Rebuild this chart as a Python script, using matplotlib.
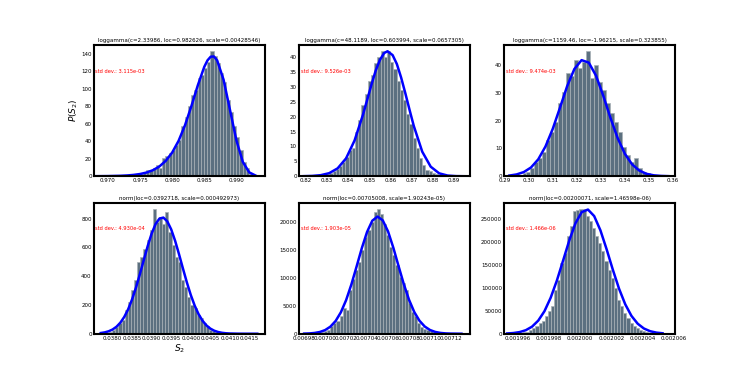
import numpy as np
import matplotlib
matplotlib.use("Agg")
import matplotlib.pyplot as plt
from matplotlib.ticker import MultipleLocator

# histogram bin counts (density)
p1_range = (0.96795, 0.99295)
p1_counts = [0, 0, 0, 0.5, 0, 0.5, 0.5, 0.5, 1, 1,
             1, 1.5, 2, 2, 3, 4, 7, 7, 10, 13,
             9, 21, 23, 27, 30, 36, 41, 58, 68, 80,
             93, 99, 112, 116, 124, 131, 143, 137, 129, 118,
             108, 87, 74, 58, 45, 30, 16, 9, 3, 1]

p2_range = (0.8190, 0.8946)
p2_counts = [0.1, 0.1, 0.2, 0.2, 0.3, 0.4, 0.6, 0.8, 1.2, 1.8,
             2.4, 3.5, 4.8, 6.5, 8.8, 9.6, 15, 19, 24, 27.5,
             32, 34, 38, 40, 42, 40, 42, 38.5, 36, 32,
             29, 25.5, 21, 17.5, 13, 9.5, 6.2, 3.8, 2.2, 1.8,
             1.0, 0.7, 0.4, 0.3, 0.2, 0.15, 0.1, 0.05, 0.05, 0.05]

p3_range = (0.29252, 0.35852)
p3_counts = [0.2, 0.4, 0.6, 1.0, 1.6, 2.8, 5.2, 6.4, 8.8, 13,
             16, 19.6, 26.3, 30.5, 37, 36, 42, 39, 41.3, 45,
             35.3, 40, 34, 31, 26.3, 22.6, 19.6, 16, 10.6, 7.5,
             5.2, 6.5, 2.8, 1.6, 1.0, 0.5, 0.3, 0.2, 0.1, 0.1]

p4_range = (0.03767, 0.04167)
p4_counts = [3, 5, 8, 15, 28, 50, 74, 97, 166, 224,
             304, 373, 500, 535, 592, 650, 719, 869, 777, 811,
             765, 846, 708, 615, 535, 500, 373, 327, 258, 200,
             177, 131, 108, 74, 51, 28, 16, 12, 9, 5,
             3, 2, 1, 1, 0.5, 0.5, 0, 0, 0, 0.5]

p5_range = (0.0069812, 0.0071292)
p5_counts = [50, 60, 80, 120, 200, 300, 415, 700, 1300, 1900,
             2200, 3100, 4570, 4270, 7830, 9730, 11400, 12880, 14950, 17330,
             18520, 20000, 21780, 22370, 21360, 19700, 17630, 15550, 14070, 12280,
             10200, 9020, 7830, 5460, 3980, 3090, 1900, 1190, 830, 590,
             415, 240, 180, 100, 60, 40, 30, 20, 10, 10]

p6_range = (0.0019955, 0.0020056)
p6_counts = [300, 600, 1000, 1800, 2800, 4500, 8800, 12400, 16000, 23400,
             28500, 38000, 49000, 60000, 96500, 118400, 155000, 177000, 213500, 235400,
             268300, 270500, 273400, 272000, 257300, 246300, 231700, 213500, 198800, 180600,
             158600, 140400, 122100, 100100, 74600, 60000, 45300, 34400, 23400, 17500,
             12400, 8800, 5100, 2900, 2000, 1000, 600, 300, 150, 100]

# fitted pdf curves
p1_fit_x = [0.968, 0.970, 0.972, 0.973, 0.974, 0.975, 0.976, 0.977, 0.978, 0.979,
            0.980, 0.981, 0.982, 0.983, 0.984, 0.985, 0.9855, 0.986, 0.9865, 0.987,
            0.988, 0.989, 0.990, 0.991, 0.992, 0.993]
p1_fit_y = [0.06, 0.19, 0.54, 0.92, 1.54, 2.56, 4.23, 6.91, 11.1, 17.6,
            27.1, 40.5, 58.4, 80.4, 104.2, 125.2, 132.6, 136.8, 137.0, 132.6,
            110.4, 75.8, 40.9, 16.3, 4.4, 0.7]

p2_fit_x = [0.819, 0.823, 0.827, 0.831, 0.835, 0.839, 0.843, 0.847, 0.851, 0.853,
            0.855, 0.857, 0.8586, 0.861, 0.863, 0.865, 0.867, 0.869, 0.871, 0.875,
            0.879, 0.883, 0.887, 0.891, 0.895]
p2_fit_y = [0.03, 0.11, 0.36, 1.03, 2.65, 6.01, 12.0, 20.7, 30.8, 35.5,
            39.1, 41.4, 42.0, 40.7, 37.7, 33.2, 27.9, 22.3, 16.9, 8.25,
            3.21, 0.98, 0.23, 0.04, 0.005]

p3_fit_x = [0.292, 0.295, 0.298, 0.301, 0.304, 0.307, 0.310, 0.313, 0.316, 0.319,
            0.322, 0.325, 0.328, 0.331, 0.334, 0.337, 0.340, 0.343, 0.346, 0.349,
            0.352, 0.355, 0.358]
p3_fit_y = [0.25, 0.65, 1.50, 3.16, 6.08, 10.7, 17.0, 24.6, 32.4, 38.6,
            41.8, 40.9, 36.2, 29.0, 21.0, 13.7, 8.05, 4.26, 2.03, 0.87,
            0.33, 0.12, 0.035]

p4_fit_x = [0.0377, 0.0378, 0.0379, 0.0380, 0.0381, 0.0382, 0.0383, 0.0384, 0.0385, 0.0386,
            0.0387, 0.0388, 0.0389, 0.0390, 0.0391, 0.0392, 0.0393, 0.0394, 0.0395, 0.0396,
            0.0397, 0.0398, 0.0399, 0.0400, 0.0401, 0.0402, 0.0403, 0.0404, 0.0405, 0.0406,
            0.0407, 0.0408, 0.0409, 0.0410, 0.0412, 0.0414, 0.0417]
p4_fit_y = [5.1, 9.5, 17.0, 29.3, 48.4, 76.9, 116.9, 170.5, 239.1, 321.4,
            414.8, 513.8, 610.6, 696.5, 762.5, 801, 807.5, 781.2, 725.2, 646.1,
            552.5, 453.3, 357, 269.7, 195.6, 136.1, 90.9, 58.3, 35.8, 21.1,
            12.0, 6.5, 3.4, 1.7, 0.4, 0.07, 0]

p5_fit_x = [0.006980, 0.006985, 0.006990, 0.006995, 0.007000, 0.007005, 0.007010, 0.007015,
            0.007020, 0.007025, 0.007030, 0.007035, 0.007040, 0.007045, 0.007050, 0.007055,
            0.007060, 0.007065, 0.007070, 0.007075, 0.007080, 0.007085, 0.007090, 0.007095,
            0.007100, 0.007105, 0.007110, 0.007115, 0.007120, 0.007130]
p5_fit_y = [24, 60, 143, 317, 656, 1265, 2280, 3831,
            6008, 8800, 12021, 15317, 18224, 20235, 20971, 20282,
            18306, 15420, 12123, 8892, 6086, 3888, 2321, 1291,
            671, 325, 147, 62, 25, 3]

p6_fit_x = [0.0019953, 0.0019957, 0.0019961, 0.0019965, 0.0019969, 0.0019973, 0.0019977,
            0.0019981, 0.0019985, 0.0019989, 0.0019993, 0.0019997, 0.0020001, 0.0020005,
            0.0020009, 0.0020013, 0.0020017, 0.0020021, 0.0020025, 0.0020029, 0.0020033,
            0.0020037, 0.0020041, 0.0020045, 0.0020049, 0.0020053]
p6_fit_y = [626, 1559, 3614, 7772, 15485, 28711, 49312,
            78757, 116449, 160100, 204350, 242014, 266126, 271625,
            257363, 226339, 184783, 140016, 98488, 64307, 38970,
            21934, 11457, 5552, 2498, 1045]

titles = ["loggamma(c=2.33986, loc=0.982626, scale=0.00428546)",
          "loggamma(c=48.1189, loc=0.603994, scale=0.0657305)",
          "loggamma(c=1159.46, loc=-1.96215, scale=0.323855)",
          "norm(loc=0.0392718, scale=0.000492973)",
          "norm(loc=0.00705008, scale=1.90243e-05)",
          "norm(loc=0.00200071, scale=1.46598e-06)"]
std_labels = ["std dev.: 3.115e-03", "std dev.: 9.526e-03", "std dev.: 9.474e-03",
              "std dev.: 4.930e-04", "std dev.: 1.903e-05", "std dev.: 1.466e-06"]

panels = [
    (p1_range, p1_counts, p1_fit_x, p1_fit_y, (0.9678, 0.9944), 0.005, 20),
    (p2_range, p2_counts, p2_fit_x, p2_fit_y, (0.8167, 0.8975), 0.01, 5),
    (p3_range, p3_counts, p3_fit_x, p3_fit_y, (0.2898, 0.3608), 0.01, 10),
    (p4_range, p4_counts, p4_fit_x, p4_fit_y, (0.03752, 0.04189), 0.0005, 200),
    (p5_range, p5_counts, p5_fit_x, p5_fit_y, (0.006975, 0.007138), 0.00002, 5000),
    (p6_range, p6_counts, p6_fit_x, p6_fit_y, (0.0019951, 0.0020061), 0.000002, 50000),
]

fig, axes = plt.subplots(2, 3, figsize=(7.5, 3.75), dpi=100)

for k, ax in enumerate(axes.flat):
    rng, counts, fx, fy, xlim, xstep, ystep = panels[k]
    edges = np.linspace(rng[0], rng[1], len(counts) + 1)
    ax.bar(edges[:-1], counts, width=np.diff(edges), align="edge",
           color="#5c7080", edgecolor="#a8b0b6", linewidth=0.5)
    ax.plot(fx, fy, color="#0000ff", lw=1.8)
    ax.set_xlim(*xlim)
    ax.xaxis.set_major_locator(MultipleLocator(xstep))
    ax.yaxis.set_major_locator(MultipleLocator(ystep))
    ax.ticklabel_format(useOffset=False, style="plain")
    ax.tick_params(length=0, labelsize=4, pad=1.5)
    for sp in ax.spines.values():
        sp.set_linewidth(1.5)
    ax.set_title(titles[k], fontsize=4, pad=2)
    ax.text(0.01, 0.80, std_labels[k], transform=ax.transAxes, color="red",
            fontsize=3.7, va="center", ha="left")

axes[0, 0].set_ylabel("$P(S_2)$", fontsize=6.5, labelpad=0.5)
axes[1, 0].set_xlabel("$S_2$", fontsize=6.5, labelpad=1)

fig.savefig("out.png", dpi=100)
